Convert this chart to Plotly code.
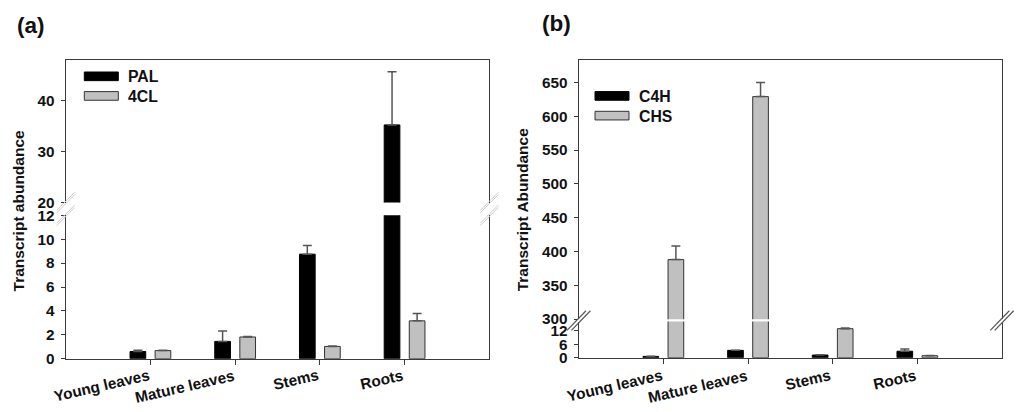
import plotly.graph_objects as go

# ---------------- data ----------------
categories = ["Young leaves", "Mature leaves", "Stems", "Roots"]

# panel (a)
pal = [0.60, 1.45, 8.75, 35.2]
pal_err = [0.10, 0.88, 0.72, 10.4]
cl4 = [0.68, 1.82, 1.03, 3.17]
cl4_err = [0.03, 0.03, 0.04, 0.62]

# panel (b)
c4h = [0.6, 3.3, 1.2, 2.9]
c4h_err = [0.05, 0.1, 0.1, 1.0]
chs = [388, 629, 13.0, 0.9]
chs_err = [20, 21, 0.3, 0.05]

a_low_ticks = [0, 2, 4, 6, 8, 10, 12]
a_up_ticks = [20, 30, 40]
b_low_ticks = [0, 6, 12]
b_up_ticks = [300, 350, 400, 450, 500, 550, 600, 650]

# ---------------- style ----------------
W, H = 1024, 412
FONT = "Liberation Sans"
TXT = "#111111"
AX = "#3a3a3a"
BLACK = "#000000"
GRAY = "#c0c0c0"
EDGE = "#333333"
ERR = "#555555"

# the photographed page is slightly taller than the figure; compensate vertically
Y_OFF, Y_SCALE = 9.7, 0.954


def px(x):
    return x / W


def py(y):
    return 1 - ((y - Y_OFF) / Y_SCALE) / H


fig = go.Figure()


def add_pair(vals1, err1, vals2, err2, xa, ya):
    for vals, err, col, edge in ((vals1, err1, BLACK, BLACK), (vals2, err2, GRAY, EDGE)):
        fig.add_trace(go.Bar(
            x=categories, y=vals, xaxis=xa, yaxis=ya,
            marker=dict(color=col, line=dict(color=edge, width=1)),
            error_y=dict(type="data", array=err, arrayminus=[0] * len(err), symmetric=False,
                         color=ERR, thickness=1.5, width=4.5),
            showlegend=False, hoverinfo="skip",
        ))


# panel a: lower (x,y), upper (x2,y2); panel b: lower (x3,y3), upper (x4,y4)
add_pair(pal, pal_err, cl4, cl4_err, "x", "y")
add_pair(pal, pal_err, cl4, cl4_err, "x2", "y2")
add_pair(c4h, c4h_err, chs, chs_err, "x3", "y3")
add_pair(c4h, c4h_err, chs, chs_err, "x4", "y4")

tickfont = dict(family=FONT, size=15.3, color=TXT, weight="bold")

xa_dom = [px(65.7), px(489.3)]
xb_dom = [px(578.7), px(1002)]

common_x = dict(type="category", categoryorder="array", categoryarray=categories,
                range=[-1, 4], zeroline=False, showgrid=False, fixedrange=True)
common_y = dict(zeroline=False, showgrid=False, showline=True, linecolor=AX, linewidth=1.3,
                mirror=True, ticks="outside", ticklen=4, tickcolor=AX, tickwidth=1.2,
                tickfont=tickfont, ticklabelstandoff=3, fixedrange=True)

lower_x = dict(common_x, showline=True, linecolor=AX, linewidth=1.3, ticks="outside",
               ticklen=5, tickcolor=AX, tickwidth=1.2, showticklabels=False)
upper_x = dict(common_x, side="top", showline=True, linecolor=AX, linewidth=1.3,
               ticks="", showticklabels=False)

fig.update_layout(
    width=W, height=H,
    margin=dict(l=0, r=0, t=0, b=0),
    paper_bgcolor="white", plot_bgcolor="white",
    barmode="group", bargap=0.408, bargroupgap=0.375,
    showlegend=False,
    xaxis=dict(lower_x, domain=xa_dom, anchor="y"),
    yaxis=dict(common_y, domain=[py(357.7), py(215)], range=[0, 12],
               tickvals=a_low_ticks, anchor="x"),
    xaxis2=dict(upper_x, domain=xa_dom, anchor="y2"),
    yaxis2=dict(common_y, domain=[py(202.3), py(60)], range=[20, 48],
                tickvals=a_up_ticks, anchor="x2"),
    xaxis3=dict(lower_x, domain=xb_dom, anchor="y3"),
    yaxis3=dict(common_y, domain=[py(356.7), py(320.7)], range=[0, 16.2],
                tickvals=b_low_ticks, anchor="x3"),
    xaxis4=dict(upper_x, domain=xb_dom, anchor="y4"),
    yaxis4=dict(common_y, domain=[py(318.3), py(60)], range=[300, 683.8],
                tickvals=b_up_ticks, anchor="x4"),
)

shapes = []
annotations = []


def seg(x0, y0, x1, y1, color, width):
    shapes.append(dict(type="line", xref="paper", yref="paper",
                       x0=px(x0), y0=py(y0), x1=px(x1), y1=py(y1),
                       line=dict(color=color, width=width)))


# axis break marks, panel (a): light gray double slashes at both axis ends
for ax_x in (65.7, 489.3):
    for cy in (202.3, 215.0):
        for off in (-1.2, 1.2):
            seg(ax_x - 9, cy + 9 + off, ax_x + 9, cy - 9 + off, "#cccccc", 1)

# axis break marks, panel (b): dark double slashes
for ax_x in (578.7, 1002):
    for off in (-2.2, 2.2):
        seg(ax_x - 9.5 + off, 329.5, ax_x + 9.5 + off, 310, "#555555", 1.2)


# slanted category labels, right-aligned at their ticks
for xref in ("x", "x3"):
    for c in categories:
        annotations.append(dict(xref=xref, yref="paper", x=c, y=py(363), xshift=2.5,
                                text=c, textangle=-13, showarrow=False,
                                xanchor="right", yanchor="top",
                                font=dict(family=FONT, size=15.3, color=TXT, weight="bold")))


# legends (drawn by hand to match the long thin swatches)
def legend_item(x0, yc, fill, edge, label):
    shapes.append(dict(type="rect", xref="paper", yref="paper",
                       x0=px(x0), x1=px(x0 + 34), y0=py(yc + 4.3), y1=py(yc - 4.3),
                       fillcolor=fill, line=dict(color=edge, width=1)))
    annotations.append(dict(xref="paper", yref="paper", x=px(x0 + 42), y=py(yc + 0.5),
                            text=label, showarrow=False, xanchor="left", yanchor="middle",
                            font=dict(family=FONT, size=15.8, color=TXT, weight="bold")))


legend_item(84.3, 76.7, BLACK, BLACK, "PAL")
legend_item(84.3, 96.2, GRAY, EDGE, "4CL")
legend_item(595.0, 96.2, BLACK, BLACK, "C4H")
legend_item(595.0, 115.8, GRAY, EDGE, "CHS")

# y axis titles
for x, y, t in ((18.3, 210.8, "Transcript abundance"), (522, 210, "Transcript Abundance")):
    annotations.append(dict(xref="paper", yref="paper", x=px(x), y=py(y), text=t,
                            textangle=-90, showarrow=False, xanchor="center", yanchor="middle",
                            font=dict(family=FONT, size=15.5, color=TXT, weight="bold")))

# panel labels
for x, y, t in ((31, 26.5, "(a)"), (556.5, 24, "(b)")):
    annotations.append(dict(xref="paper", yref="paper", x=px(x), y=py(y), text=t,
                            showarrow=False, xanchor="center", yanchor="middle",
                            font=dict(family=FONT, size=22.5, color=TXT, weight="bold")))

fig.update_layout(shapes=shapes, annotations=annotations)

fig.write_html("out.html", config={"displayModeBar": False},
               post_script="document.body.style.margin='0px';document.body.style.overflow='hidden';")
